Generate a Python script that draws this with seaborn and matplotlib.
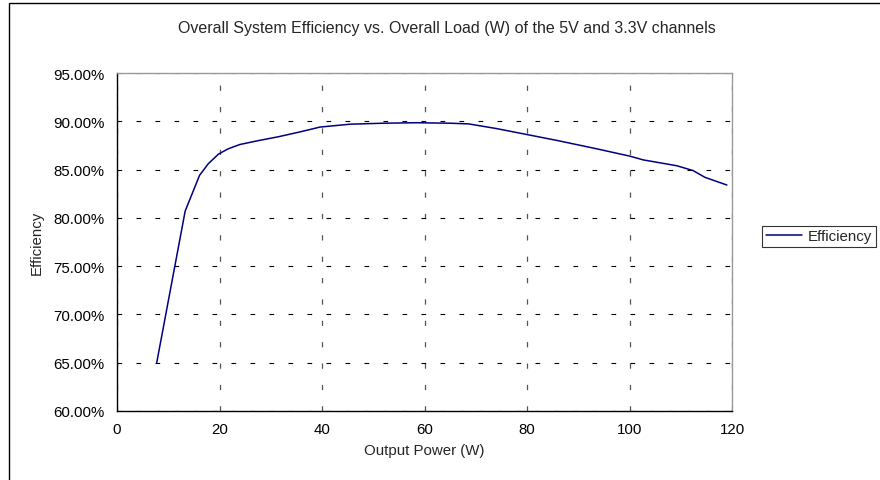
import seaborn as sns
import matplotlib.pyplot as plt
import pandas as pd
from matplotlib.ticker import PercentFormatter
from matplotlib.patches import Rectangle

# values
output_power = [7.75, 13.3, 16.1, 17.8, 19.8, 21.7, 24.0, 27.6, 31.5, 35.7, 39.6,
                45.5, 51.9, 58.5, 65.0, 68.6, 74.0, 79.3, 86.0, 93.6, 97.0,
                100.0, 102.7, 109.2, 112.4, 114.7, 119.0]
efficiency = [65.0, 80.7, 84.4, 85.6, 86.6, 87.15, 87.6, 88.0, 88.4, 88.9, 89.4,
              89.7, 89.8, 89.85, 89.8, 89.73, 89.25, 88.7, 88.0, 87.15, 86.75,
              86.4, 86.0, 85.4, 84.9, 84.2, 83.4]
x_ticks = [0, 20, 40, 60, 80, 100, 120]
y_ticks = [60, 65, 70, 75, 80, 85, 90, 95]

df = pd.DataFrame({'Output Power (W)': output_power, 'Efficiency': efficiency})

sns.set_style('white')
plt.rcParams['font.family'] = ['Liberation Sans', 'DejaVu Sans']

fs = 10.8
fig = plt.figure(figsize=(8.8, 4.81), dpi=100)
ax = fig.add_axes([117 / 880, 1 - 412 / 481, 615 / 880, 338 / 481])

sns.lineplot(data=df, x='Output Power (W)', y='Efficiency', ax=ax,
             color='#000080', linewidth=1.1, label='Efficiency')

ax.set_xlim(0, 120)
ax.set_ylim(60, 95)
ax.set_xticks(x_ticks)
ax.set_yticks(y_ticks)
ax.yaxis.set_major_formatter(PercentFormatter(xmax=100, decimals=2))

# dashed grid, horizontal dark and vertical a bit greyer
ax.yaxis.grid(True, color='black', linestyle=(0, (4.2, 12.9)), linewidth=0.8)
ax.xaxis.grid(True, color='#555555', linestyle=(0, (4.2, 12.9)), linewidth=0.9)
for side in ['top', 'right']:
    ax.spines[side].set_color('#9a9a9a')
    ax.spines[side].set_linewidth(1.0)
for side in ['left', 'bottom']:
    ax.spines[side].set_color('black')
    ax.spines[side].set_linewidth(1.0)

ax.tick_params(axis='x', direction='inout', length=8, width=0.8, colors='black', labelsize=fs, pad=4)
ax.tick_params(axis='y', direction='out', length=5, width=0.8, colors='black', labelsize=fs, pad=4)
ax.set_xlabel('Output Power (W)', fontsize=fs, labelpad=5)
ax.set_ylabel('Efficiency', fontsize=fs, labelpad=7)

ax.legend(loc='center left', bbox_to_anchor=(762 / 880, 243.5 / 481),
          bbox_transform=fig.transFigure, frameon=True, fancybox=False,
          edgecolor='black', fontsize=fs, handlelength=2.4, borderpad=0.25,
          borderaxespad=0, handletextpad=0.4).get_frame().set_linewidth(0.8)

fig.text(447 / 880, 1 - 29 / 481, 'Overall System Efficiency vs. Overall Load (W) of the 5V and 3.3V channels',
         ha='center', va='center', fontsize=11.5)

# outer chart frame
fig.patches.append(Rectangle((9 / 880, -0.1), 1.0, 1 - 4 / 481 + 0.1,
                             transform=fig.transFigure, fill=False,
                             edgecolor='black', linewidth=1.0))

fig.savefig('out.png', dpi=100)
